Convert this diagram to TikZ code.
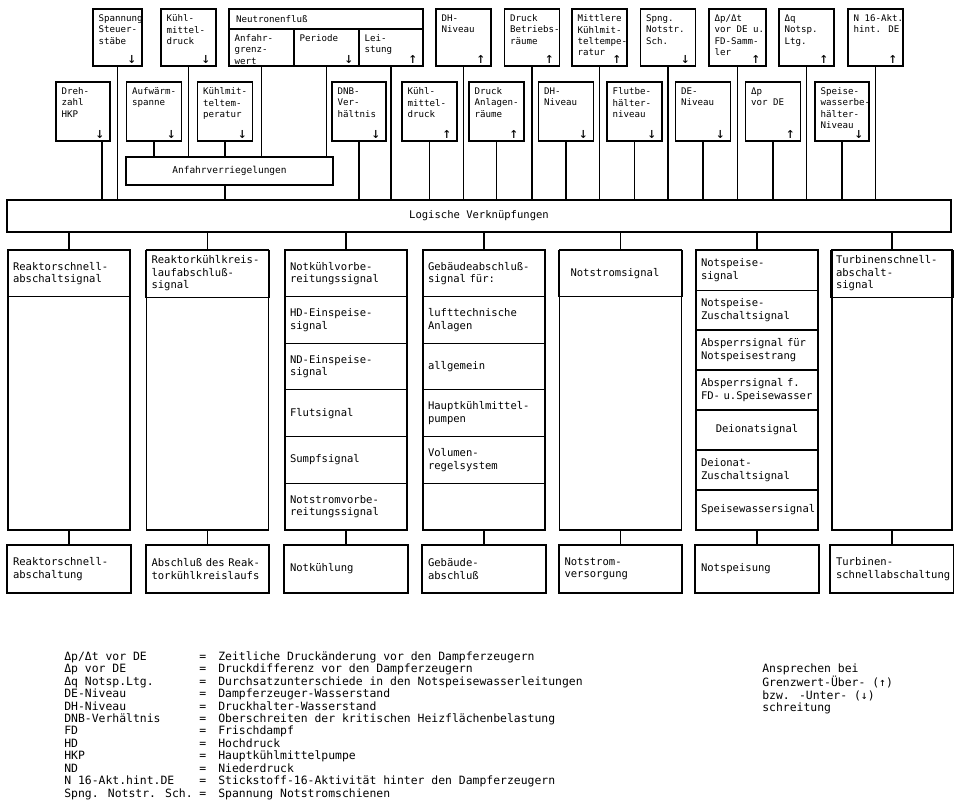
\documentclass[tikz,border=0pt]{standalone}
\usepackage{fontspec}
\setmainfont{DejaVu Sans Mono}
\usetikzlibrary{positioning}

\newcommand{\boxfont}{\fontsize{5.2}{6.5}\selectfont}
\newcommand{\anffont}{\fontsize{5.4}{6.5}\selectfont}
\newcommand{\cellfont}{\fontsize{6}{7.1}\selectfont}
\newcommand{\legfont}{\fontsize{6.5}{7.1}\selectfont}
\newcommand{\arrfont}{\fontsize{8.5}{8.5}\selectfont}

\begin{document}
\begin{tikzpicture}[
  x=0.02cm, y=-0.02cm,
  sensor/.style={
    draw, line width=1pt, outer sep=0pt, minimum width=1.1cm, minimum height=1.14cm
  },
  probe/.style={sensor, minimum height=1.18cm},
  flux/.style={sensor, minimum width=1.3cm, minimum height=0.74cm},
  sensortext/.style={anchor=north west, inner sep=3pt, align=left, font=\boxfont},
  arrowmark/.style={anchor=south east, inner xsep=3pt, inner ysep=1.5pt, font=\arrfont},
  bus/.style={draw, line width=1pt, outer sep=0pt, font=\cellfont},
  column/.style={
    draw, line width=1.1pt, outer sep=0pt, minimum width=2.44cm, minimum height=5.6cm
  },
  cell/.style={
    draw, line width=0.6pt, outer sep=0pt, minimum width=2.44cm, minimum height=0.933cm,
    text width=2.24cm, align=left, font=\cellfont
  },
  slim/.style={cell, minimum height=0.8cm},
  action/.style={
    draw, line width=1pt, outer sep=0pt, minimum width=2.44cm, minimum height=0.96cm,
    text width=2.24cm, align=left, font=\cellfont
  },
  link/.style={line width=0.8pt}
]
\useasboundingbox (0,0) rectangle (954,806);

% upper row of measured values
\node[sensor, minimum width=0.98cm, label={[sensortext]north west:{Spannung\\Steuer-\\stäbe}}, label={[arrowmark]south east:↓}] (s1) at (117.5,37.5) {};
\node[sensor, label={[sensortext]north west:{Kühl-\\mittel-\\druck}}, label={[arrowmark]south east:↓}] (s2) at (188.5,37.5) {};
\node[sensor, minimum width=3.88cm, minimum height=0.4cm, text width=3.6cm, align=left, font=\boxfont] (nfh) at (326,19) {Neutronenfluß};
\node[flux, anchor=north west, label={[sensortext]north west:{Anfahr-\\grenz-\\wert}}] (nfa) at (nfh.south west) {};
\node[flux, right=0pt of nfa, label={[sensortext]north west:{Periode}}, label={[arrowmark]south east:↓}] (nfp) {};
\node[flux, minimum width=1.28cm, right=0pt of nfp, label={[sensortext]north west:{Lei-\\stung}}, label={[arrowmark]south east:↑}] (nfl) {};
\node[sensor, label={[sensortext]north west:{DH-\\Niveau}}, label={[arrowmark]south east:↑}] (s3) at (463.5,37.5) {};
\node[sensor, label={[sensortext]north west:{Druck\\Betriebs-\\räume}}, label={[arrowmark]south east:↑}] (s4) at (532,37.5) {};
\node[sensor, label={[sensortext]north west:{Mittlere\\Kühlmit-\\teltempe-\\ratur}}, label={[arrowmark]south east:↑}] (s5) at (599.5,37.5) {};
\node[sensor, label={[sensortext]north west:{Spng.\\Notstr.\\Sch.}}, label={[arrowmark]south east:↓}] (s6) at (668,37.5) {};
\node[sensor, minimum width=1.14cm, label={[sensortext]north west:{Δp/Δt\\vor DE u.\\FD-Samm-\\ler}}, label={[arrowmark]south east:↑}] (s7) at (737.5,37.5) {};
\node[sensor, label={[sensortext]north west:{Δq\\Notsp.\\Ltg.}}, label={[arrowmark]south east:↑}] (s8) at (806.5,37.5) {};
\node[sensor, label={[sensortext]north west:{N 16-Akt.\\hint. DE}}, label={[arrowmark]south east:↑}] (s9) at (875.5,37.5) {};

% lower row of measured values
\node[probe, minimum width=1.08cm, label={[sensortext]north west:{Dreh-\\zahl\\HKP}}, label={[arrowmark]south east:↓}] (m1) at (83,111.5) {};
\node[probe, label={[sensortext]north west:{Aufwärm-\\spanne}}, label={[arrowmark]south east:↓}] (m2) at (154,111.5) {};
\node[probe, label={[sensortext]north west:{Kühlmit-\\teltem-\\peratur}}, label={[arrowmark]south east:↓}] (m3) at (225,111.5) {};
\node[probe, minimum width=1.08cm, label={[sensortext]north west:{DNB-\\Ver-\\hältnis}}, label={[arrowmark]south east:↓}] (m4) at (359,111.5) {};
\node[probe, label={[sensortext]north west:{Kühl-\\mittel-\\druck}}, label={[arrowmark]south east:↑}] (m5) at (429.5,111.5) {};
\node[probe, label={[sensortext]north west:{Druck\\Anlagen-\\räume}}, label={[arrowmark]south east:↑}] (m6) at (496.5,111.5) {};
\node[probe, label={[sensortext]north west:{DH-\\Niveau}}, label={[arrowmark]south east:↓}] (m7) at (566,111.5) {};
\node[probe, label={[sensortext]north west:{Flutbe-\\hälter-\\niveau}}, label={[arrowmark]south east:↓}] (m8) at (634.5,111.5) {};
\node[probe, label={[sensortext]north west:{DE-\\Niveau}}, label={[arrowmark]south east:↓}] (m9) at (703,111.5) {};
\node[probe, label={[sensortext]north west:{Δp\\vor DE}}, label={[arrowmark]south east:↑}] (m10) at (773,111.5) {};
\node[probe, minimum width=1.08cm, label={[sensortext]north west:{Speise-\\wasserbe-\\hälter-\\Niveau}}, label={[arrowmark]south east:↓}] (m11) at (842,111.5) {};

% interlocks and logic
\node[bus, minimum width=4.14cm, minimum height=0.56cm, font=\anffont] (anfahr) at (229.5,171) {Anfahrverriegelungen};
\node[bus, minimum width=18.88cm, minimum height=0.64cm] (logic) at (479,216) {Logische Verknüpfungen};

% inputs to the interlocks
\draw[link] (s2.south) -- (s2.south |- anfahr.north);
\draw[link] (nfa.south) -- (nfa.south |- anfahr.north);
\draw[link] (nfp.south) -- (nfp.south |- anfahr.north);
\draw[link] (m2.south) -- (m2.south |- anfahr.north);
\draw[link] (m3.south) -- (m3.south |- anfahr.north);
\draw[link] (anfahr.south -| m3.south) -- (m3.south |- logic.north);

% inputs to the logic
\coordinate (m1out) at ([xshift=0.38cm]m1.south);
\draw[link] (m1out) -- (m1out |- logic.north);
\draw[link] (s1.south) -- (s1.south |- logic.north);
\draw[link] (nfl.south) -- (nfl.south |- logic.north);
\draw[link] (s3.south) -- (s3.south |- logic.north);
\draw[link] (s4.south) -- (s4.south |- logic.north);
\draw[link] (s5.south) -- (s5.south |- logic.north);
\draw[link] (s6.south) -- (s6.south |- logic.north);
\draw[link] (s7.south) -- (s7.south |- logic.north);
\draw[link] (s8.south) -- (s8.south |- logic.north);
\draw[link] (s9.south) -- (s9.south |- logic.north);
\draw[link] (m4.south) -- (m4.south |- logic.north);
\draw[link] (m5.south) -- (m5.south |- logic.north);
\draw[link] (m6.south) -- (m6.south |- logic.north);
\draw[link] (m7.south) -- (m7.south |- logic.north);
\draw[link] (m8.south) -- (m8.south |- logic.north);
\draw[link] (m9.south) -- (m9.south |- logic.north);
\draw[link] (m10.south) -- (m10.south |- logic.north);
\draw[link] (m11.south) -- (m11.south |- logic.north);

% signal columns
\node[column] (col1) at (69,390) {};
\node[cell, anchor=north] (c1a) at (col1.north) {Reaktorschnell-\\abschaltsignal};

\node[column] (col2) at (207.5,390) {};
\node[cell, anchor=north] (c2a) at (col2.north) {Reaktorkühlkreis-\\laufabschluß-\\signal};

\node[column] (col3) at (346,390) {};
\node[cell, anchor=north] (c3a) at (col3.north) {Notkühlvorbe-\\reitungssignal};
\node[cell, below=0pt of c3a] (c3b) {HD-Einspeise-\\signal};
\node[cell, below=0pt of c3b] (c3c) {ND-Einspeise-\\signal};
\node[cell, below=0pt of c3c] (c3d) {Flutsignal};
\node[cell, below=0pt of c3d] (c3e) {Sumpfsignal};
\node[cell, below=0pt of c3e] (c3f) {Notstromvorbe-\\reitungssignal};

\node[column] (col4) at (484,390) {};
\node[cell, anchor=north] (c4a) at (col4.north) {Gebäudeabschluß-\\signal für:};
\node[cell, below=0pt of c4a] (c4b) {lufttechnische\\Anlagen};
\node[cell, below=0pt of c4b] (c4c) {allgemein};
\node[cell, below=0pt of c4c] (c4d) {Hauptkühlmittel-\\pumpen};
\node[cell, below=0pt of c4d] (c4e) {Volumen-\\regelsystem};
\node[cell, below=0pt of c4e] (c4f) {};

\node[column] (col5) at (620.5,390) {};
\node[cell, anchor=north] (c5a) at (col5.north) {\hspace*{0.12cm}Notstromsignal};

\node[column] (col6) at (757,390) {};
\node[slim, anchor=north] (c6a) at (col6.north) {Notspeise-\\signal};
\node[slim, below=0pt of c6a] (c6b) {Notspeise-\\Zuschaltsignal};
\node[slim, below=0pt of c6b] (c6c) {Absperrsignal für\\Notspeisestrang};
\node[slim, below=0pt of c6c] (c6d) {Absperrsignal f.\\FD- u.Speisewasser};
\node[slim, below=0pt of c6d, align=center] (c6e) {Deionatsignal};
\node[slim, below=0pt of c6e] (c6f) {Deionat-\\Zuschaltsignal};
\node[slim, below=0pt of c6f] (c6g) {Speisewassersignal};

\node[column, minimum width=2.4cm] (col7) at (892,390) {};
\node[cell, minimum width=2.4cm, anchor=north] (c7a) at (col7.north) {Turbinenschnell-\\abschalt-\\signal};

% protective actions
\node[action, below=0.3cm of col1] (r1) {Reaktorschnell-\\abschaltung};
\node[action, below=0.3cm of col2] (r2) {Abschluß des Reak-\\torkühlkreislaufs};
\node[action, below=0.3cm of col3] (r3) {Notkühlung};
\node[action, below=0.3cm of col4] (r4) {Gebäude-\\abschluß};
\node[action, below=0.3cm of col5] (r5) {Notstrom-\\versorgung};
\node[action, below=0.3cm of col6] (r6) {Notspeisung};
\node[action, minimum width=2.4cm, below=0.3cm of col7] (r7) {Turbinen-\\schnellabschaltung};

% logic to columns to actions
\foreach \k in {1,...,7}{
  \draw[link] (col\k.north |- logic.south) -- (col\k.north);
  \draw[link] (col\k.south) -- (r\k.north);
}

% abbreviations
\node[anchor=north west, inner sep=0pt, font=\legfont] (legend) at (64,651) {%
\begin{tabular}{@{}p{2.7cm}@{}p{0.38cm}@{}l@{}}
Δp/Δt vor DE & = & Zeitliche Druckänderung vor den Dampferzeugern\\
Δp vor DE & = & Druckdifferenz vor den Dampferzeugern\\
Δq Notsp.Ltg. & = & Durchsatzunterschiede in den Notspeisewasserleitungen\\
DE-Niveau & = & Dampferzeuger-Wasserstand\\
DH-Niveau & = & Druckhalter-Wasserstand\\
DNB-Verhältnis & = & Oberschreiten der kritischen Heizflächenbelastung\\
FD & = & Frischdampf\\
HD & = & Hochdruck\\
HKP & = & Hauptkühlmittelpumpe\\
ND & = & Niederdruck\\
N 16-Akt.hint.DE & = & Stickstoff-16-Aktivität hinter den Dampferzeugern\\
Spng. Notstr. Sch. & = & Spannung Notstromschienen
\end{tabular}};
\node[anchor=north west, inner sep=0pt, align=left, font=\legfont] (note) at (762,663)
  {Ansprechen bei\\Grenzwert-Über- (↑)\\bzw. -Unter- (↓)\\schreitung};

\end{tikzpicture}
\end{document}
